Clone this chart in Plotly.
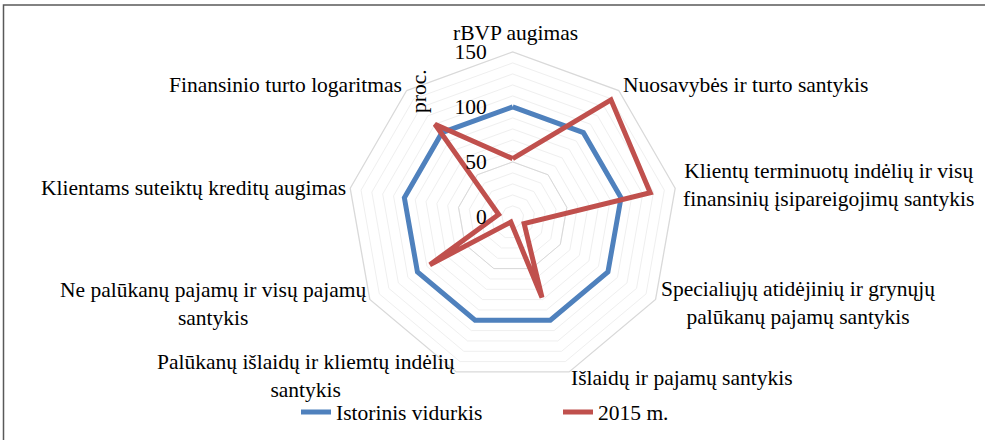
import plotly.graph_objects as go

categories = [
    "rBVP augimas",
    "Nuosavybės ir turto santykis",
    "Klientų terminuotų indėlių ir visų<br>finansinių įsipareigojimų santykis",
    "Specialiųjų atidėjinių ir grynųjų<br>palūkanų pajamų santykis",
    "Išlaidų ir pajamų santykis",
    "Palūkanų išlaidų ir kliemtų indėlių<br>santykis",
    "Ne palūkanų pajamų ir visų pajamų<br>santykis",
    "Klientams suteiktų kreditų augimas",
    "Finansinio turto logaritmas",
]
istorinis = [100, 100, 100, 100, 100, 100, 100, 100, 100]
m2015 = [53, 139, 127, 12, 78, 5, 87, 13, 110]

minor_ticks = list(range(0, 151, 10))
major_ticks = [0, 50, 100, 150]

FONT = "Liberation Serif"
FS = 21.5
BLUE = "#4f81bd"
RED = "#c0504d"
W, H = 985, 440

# where each category label sits (pixel centre of the text block)
label_pos = [
    (515, 33), (745, 85), (828, 185), (798, 303), (682, 378),
    (306, 376), (213, 304), (193, 188), (285, 85),
]


def closed(vals):
    return vals + vals[:1]


fig = go.Figure()

fig.add_trace(go.Scatterpolar(
    r=closed(istorinis), theta=closed(categories), subplot="polar2",
    mode="lines", name="Istorinis vidurkis",
    line=dict(color=BLUE, width=5),
))
fig.add_trace(go.Scatterpolar(
    r=closed(m2015), theta=closed(categories), subplot="polar2",
    mode="lines", name="2015 m.",
    line=dict(color=RED, width=5),
))
# invisible trace so the minor-grid polar gets drawn
fig.add_trace(go.Scatterpolar(
    r=[0] * len(categories), theta=categories, subplot="polar",
    mode="lines", line=dict(width=0), showlegend=False, hoverinfo="skip",
))

dom = dict(x=[0.353, 0.688], y=[0.132, 0.882])
angular_common = dict(direction="clockwise", rotation=90, categoryarray=categories,
                      type="category", showticklabels=False, ticks="", showgrid=False)

annotations = [dict(text="proc.", textangle=-90, xref="paper", yref="paper",
                    x=419 / W, y=1 - 91 / H, xanchor="center", yanchor="middle",
                    showarrow=False, font=dict(family=FONT, size=FS))]
for cat, (px, py) in zip(categories, label_pos):
    annotations.append(dict(text=cat, xref="paper", yref="paper", x=px / W, y=1 - py / H,
                            xanchor="center", yanchor="middle", align="center",
                            showarrow=False, font=dict(family=FONT, size=FS)))

fig.update_layout(
    width=W, height=H,
    margin=dict(l=0, r=0, t=0, b=0),
    paper_bgcolor="white",
    font=dict(family=FONT, size=FS, color="black"),
    polar=dict(
        domain=dom, gridshape="linear", bgcolor="white",
        radialaxis=dict(range=[0, 150], tickvals=minor_ticks, showticklabels=False,
                        showline=False, ticks="", gridcolor="#efefef", gridwidth=1),
        angularaxis=dict(showline=False, **angular_common),
    ),
    polar2=dict(
        domain=dom, gridshape="linear", bgcolor="rgba(0,0,0,0)",
        radialaxis=dict(range=[0, 150], tickvals=major_ticks, angle=90, tickangle=90,
                        side="counterclockwise", showline=False,
                        ticks="outside", ticklen=18, tickcolor="rgba(0,0,0,0)",
                        gridcolor="#d9d9d9", gridwidth=1.3,
                        tickfont=dict(family=FONT, size=FS)),
        angularaxis=dict(showline=True, linecolor="#d9d9d9", linewidth=1.3,
                         **angular_common),
    ),
    legend=dict(orientation="h", x=296 / W, xanchor="left", y=1 - 412 / H,
                yanchor="middle", entrywidth=217, font=dict(family=FONT, size=FS)),
    shapes=[dict(type="rect", xref="paper", yref="paper",
                 x0=3.5 / W, x1=1.1, y0=-0.1, y1=1 - 5 / H,
                 line=dict(color="#595959", width=1.5))],
    annotations=annotations,
)

# drop the browser's default body margin so the figure sits at the page corner
fig.write_html("out.html", config={"displayModeBar": False},
               post_script="document.body.style.margin='0';")
